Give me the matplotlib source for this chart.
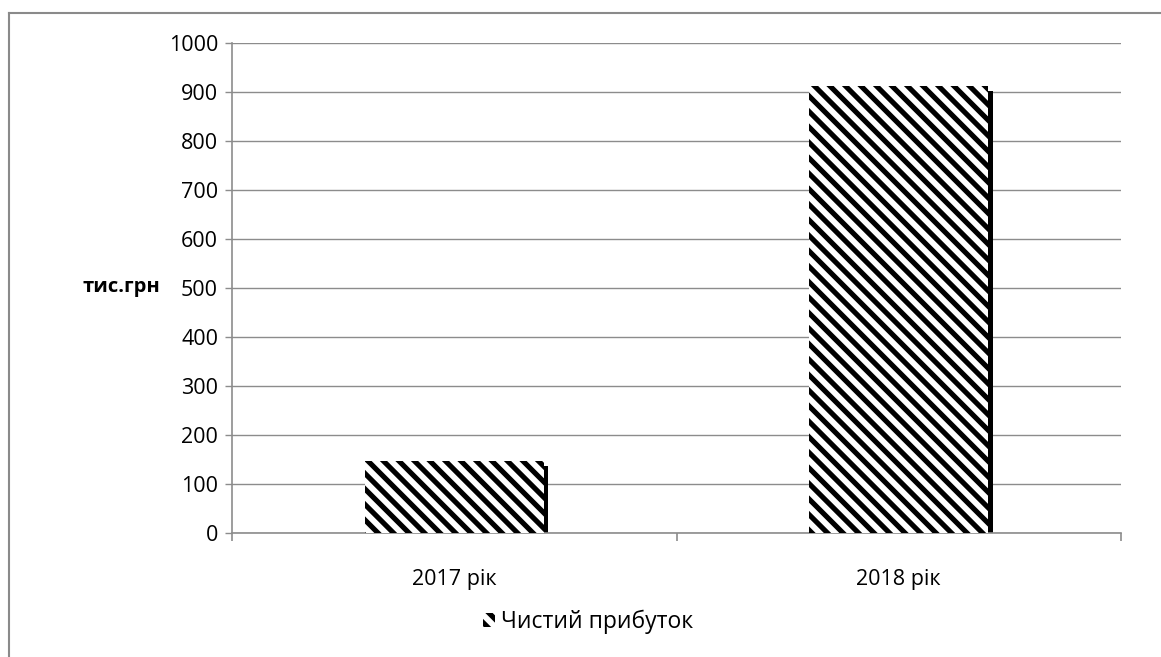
import matplotlib
matplotlib.use('Agg')
import matplotlib.pyplot as plt
from matplotlib.lines import Line2D
import numpy as np

plt.rcParams['font.family'] = ['Open Sans', 'DejaVu Sans']

# net profit, thousand UAH
years = ['2017 рік', '2018 рік']
profit = [147, 913]
shadow = [137, 903]
series_name = 'Чистий прибуток'
y_label = 'тис.грн'
y_ticks = list(range(0, 1001, 100))

W, H = 1161, 657
DPI = 93          # hatch tile is one inch, so this sets the stripe spacing
S = 100 / DPI     # keep sizes as they look at 100 dpi

plt.rcParams['hatch.linewidth'] = 4.0

fig = plt.figure(figsize=(W / DPI, H / DPI), dpi=DPI)
ax = fig.add_axes([232 / W, (H - 533) / H, (1121 - 232) / W, (533 - 43) / H])

x = np.arange(len(years))
bar_w = 0.402
side_w = 0.012
grid_c = '#8c8c8c'

# dark side strip behind the right edge of each column
ax.bar(x + bar_w / 2 + side_w / 2 - 0.001, shadow, width=side_w,
       color='black', linewidth=0, zorder=2)
bars = ax.bar(x, profit, width=bar_w, color='white', edgecolor='black',
              hatch='\\\\', linewidth=0, zorder=3, label=series_name)

ax.set_xlim(-0.5, 1.5)
ax.set_ylim(0, 1000)
ax.set_yticks(y_ticks)
ax.yaxis.grid(True, color=grid_c, linewidth=1.0 * S)
ax.set_axisbelow(True)

ax.set_xticks(x)
ax.set_xticklabels(years)
ax.set_xticks([-0.5, 0.5, 1.5], minor=True)
ax.tick_params(axis='x', which='major', length=0, pad=26 * S, labelsize=15.5 * S)
ax.tick_params(axis='x', which='minor', length=6 * S, color=grid_c, width=1.2 * S)
ax.tick_params(axis='y', length=5 * S, color=grid_c, width=1.0 * S, pad=5 * S,
               labelsize=15.5 * S)

for s in ['top', 'right']:
    ax.spines[s].set_visible(False)
for s in ['left', 'bottom']:
    ax.spines[s].set_color(grid_c)
    ax.spines[s].set_linewidth(1.2 * S)

fig.text(160 / W, (H - 287) / H, y_label, ha='right', va='center',
         fontsize=14.5 * S, fontweight='bold')

leg = fig.legend(handles=[bars], labels=[series_name], loc='center',
                 bbox_to_anchor=(588 / W, (H - 622) / H), frameon=False,
                 fontsize=16.5 * S, handlelength=0.55, handleheight=0.55,
                 handletextpad=0.25)

# chart area border (top and left edges)
fig.add_artist(Line2D([8.5 / W, 8.5 / W], [0, (H - 12.5) / H],
                      transform=fig.transFigure, color='#8a8a8a', linewidth=1.5 * S))
fig.add_artist(Line2D([8.5 / W, 1.0], [(H - 12.5) / H, (H - 12.5) / H],
                      transform=fig.transFigure, color='#8a8a8a', linewidth=1.5 * S))

fig.savefig('out.png', dpi=DPI)
